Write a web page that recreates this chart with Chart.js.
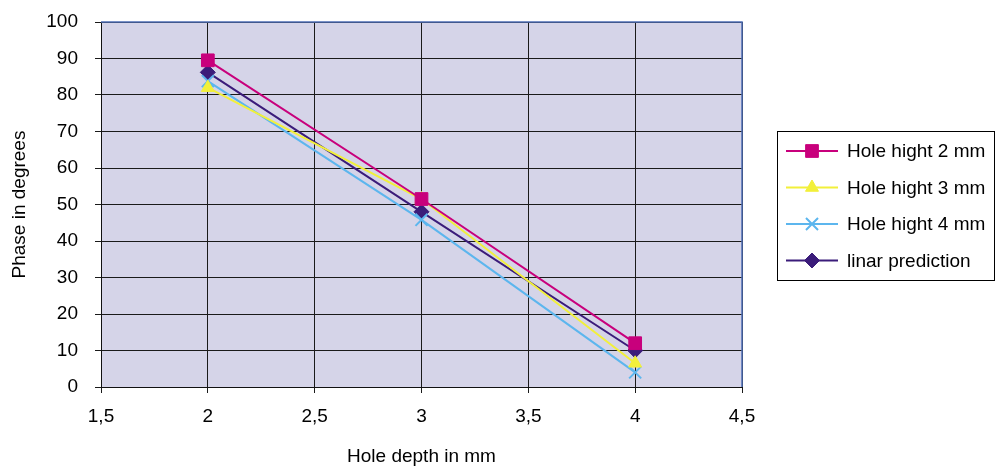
<!DOCTYPE html>
<html>
<head>
<meta charset="utf-8">
<script src="https://cdn.jsdelivr.net/npm/chart.js@4/dist/chart.umd.min.js"></script>
<style>
  html, body { margin: 0; padding: 0; background: #fff; }
  #wrap { width: 998px; height: 474px; position: relative; }
</style>
</head>
<body>
<div id="wrap"><canvas id="phaseChart" width="998" height="474"></canvas></div>
<script>
// --- DATOS ---
const depths = [2, 3, 4];
const hole2mm = [89.5, 51.5, 12];
const hole3mm = [82, 51.5, 6.5];
const hole4mm = [83.8, 45.8, 4];
const linarPrediction = [86.2, 48, 10];

const seriesNames = ["Hole hight 2 mm", "Hole hight 3 mm", "Hole hight 4 mm", "linar prediction"];
const xTicks = [1.5, 2, 2.5, 3, 3.5, 4, 4.5];
const yTicks = [0, 10, 20, 30, 40, 50, 60, 70, 80, 90, 100];

const FONT = "'Liberation Sans', Arial, sans-serif";
const FS = 19;

function puntos(valores) {
  return depths.map((d, i) => ({ x: d, y: valores[i] }));
}

function serie(label, valores, color, estilo, radio) {
  return {
    label: label,
    data: puntos(valores),
    showLine: true,
    borderColor: color,
    backgroundColor: color,
    borderWidth: 2,
    pointStyle: estilo,
    pointRadius: radio,
    pointBorderColor: color,
    pointBackgroundColor: color,
    pointBorderWidth: estilo === "crossRot" ? 2 : 1,
    tension: 0
  };
}

// fondo lila y borde azul arriba/derecha del área de trazado
const fondoArea = {
  id: "fondoArea",
  beforeDraw(chart) {
    const { ctx, chartArea: a } = chart;
    ctx.save();
    ctx.fillStyle = "#d5d4e8";
    ctx.fillRect(a.left, a.top, a.right - a.left, a.bottom - a.top);
    ctx.restore();
  },
  afterDatasetsDraw(chart) {
    const { ctx, chartArea: a } = chart;
    ctx.save();
    ctx.strokeStyle = "#4d6db5";
    ctx.lineWidth = 1.5;
    ctx.beginPath();
    ctx.moveTo(a.left, a.top);
    ctx.lineTo(a.right, a.top);
    ctx.lineTo(a.right, a.bottom);
    ctx.stroke();
    ctx.restore();
  }
};

// leyenda con línea + marcador, dentro de un recuadro
const leyenda = {
  id: "leyenda",
  afterDraw(chart) {
    const ctx = chart.ctx;
    const box = { x: 777.5, y: 131.5, w: 217, h: 149 };
    ctx.save();
    ctx.fillStyle = "#fff";
    ctx.fillRect(box.x, box.y, box.w, box.h);
    ctx.strokeStyle = "#000";
    ctx.lineWidth = 1;
    ctx.strokeRect(box.x, box.y, box.w, box.h);
    ctx.font = FS + "px " + FONT;
    ctx.textBaseline = "middle";
    chart.data.datasets.forEach((ds, i) => {
      const yy = 151 + i * 36.5;
      ctx.strokeStyle = ds.borderColor;
      ctx.lineWidth = 2;
      ctx.beginPath();
      ctx.moveTo(786, yy);
      ctx.lineTo(838, yy);
      ctx.stroke();
      ctx.fillStyle = ds.pointBackgroundColor;
      ctx.strokeStyle = ds.pointBorderColor;
      ctx.lineWidth = ds.pointBorderWidth;
      Chart.helpers.drawPoint(ctx, {
        pointStyle: ds.pointStyle,
        radius: ds.pointRadius,
        borderWidth: ds.pointBorderWidth,
        rotation: 0
      }, 812, yy);
      ctx.fillStyle = "#000";
      ctx.fillText(ds.label, 847, yy + 1);
    });
    ctx.restore();
  }
};

new Chart(document.getElementById("phaseChart"), {
  type: "scatter",
  data: {
    datasets: [
      serie(seriesNames[0], hole2mm, "#c8007c", "rect", 9),
      serie(seriesNames[1], hole3mm, "#f2f03a", "triangle", 7.5),
      serie(seriesNames[2], hole4mm, "#5cb6ee", "crossRot", 8.5),
      serie(seriesNames[3], linarPrediction, "#3b1c7a", "rectRot", 7.5)
    ]
  },
  options: {
    responsive: false,
    animation: false,
    layout: { padding: { top: 22, right: 256, left: 0, bottom: 0 } },
    plugins: {
      legend: { display: false },
      tooltip: { enabled: false }
    },
    scales: {
      x: {
        type: "linear",
        min: 1.5,
        max: 4.5,
        afterBuildTicks: axis => { axis.ticks = xTicks.map(v => ({ value: v })); },
        afterFit: axis => {
          axis.height = 87;
          axis.paddingLeft = 0;
          axis.paddingRight = 0;
        },
        ticks: {
          color: "#000",
          font: { family: FONT, size: FS },
          padding: 12,
          callback: v => String(v).replace(".", ",")
        },
        grid: { color: "#1a1a1a", lineWidth: 1, tickLength: 6, tickColor: "#1a1a1a" },
        border: { color: "#111", width: 1 },
        title: {
          display: true,
          text: "Hole depth in mm",
          color: "#000",
          font: { family: FONT, size: FS },
          padding: { top: 6, bottom: 6 }
        }
      },
      y: {
        min: 0,
        max: 100,
        afterBuildTicks: axis => { axis.ticks = yTicks.map(v => ({ value: v })); },
        afterFit: axis => {
          axis.width = 101;
          axis.paddingTop = 0;
          axis.paddingBottom = 0;
        },
        ticks: {
          color: "#000",
          font: { family: FONT, size: FS },
          padding: 17
        },
        grid: { color: "#1a1a1a", lineWidth: 1, tickLength: 6, tickColor: "#1a1a1a" },
        border: { color: "#111", width: 1 },
        title: {
          display: true,
          text: "Phase in degrees",
          color: "#000",
          font: { family: FONT, size: FS },
          padding: { top: 8, bottom: 0 }
        }
      }
    }
  },
  plugins: [fondoArea, leyenda]
});
</script>
</body>
</html>
